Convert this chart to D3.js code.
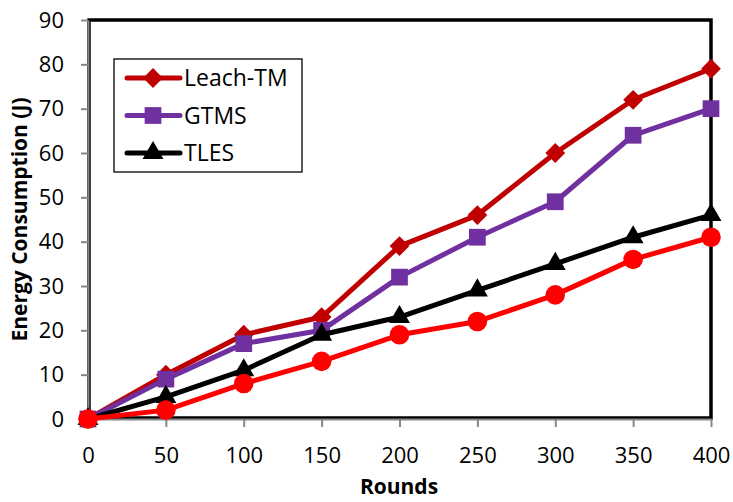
<!DOCTYPE html>
<html><head><meta charset="utf-8">
<script src="https://cdn.jsdelivr.net/npm/d3@7"></script>
<style>body{margin:0;background:#fff;} svg{display:block;font-family:"Open Sans", sans-serif;}</style>
</head><body>
<svg id="c" width="733" height="502"></svg>
<script>
const rounds = [0, 50, 100, 150, 200, 250, 300, 350, 400];
const leachTM = [0, 10, 19, 23, 39, 46, 60, 72, 79];
const gtms = [0, 9, 17, 20, 32, 41, 49, 64, 70];
const tles = [0, 5, 11, 19, 23, 29, 35, 41, 46];
const proposed = [0, 2, 8, 13, 19, 22, 28, 36, 41];
const yTicks = [0, 10, 20, 30, 40, 50, 60, 70, 80, 90];
const xTicks = rounds;

const series = [
  {name: "Leach-TM", values: leachTM, color: "#C00000", shape: d3.symbolDiamond2, size: 250, legend: true},
  {name: "GTMS", values: gtms, color: "#7030A0", shape: d3.symbolSquare, size: 280, legend: true},
  {name: "TLES", values: tles, color: "#000000", shape: d3.symbolTriangle, size: 190, legend: true},
  {name: "Proposed", values: proposed, color: "#FF0000", shape: d3.symbolCircle, size: 300, legend: false}
];

const L = 88, R = 711, T = 20, B = 419;
const svg = d3.select("#c");
const x = d3.scaleLinear().domain([0, 400]).range([L, R]);
const y = d3.scaleLinear().domain([0, 90]).range([B, T]);

// plot border
svg.append("rect").attr("x", L + 1).attr("y", T).attr("width", R - L - 1).attr("height", B - T - 1)
  .attr("fill", "none").attr("stroke", "#000").attr("stroke-width", 3.5);

// axes
const xAxis = d3.axisBottom(x).tickValues(xTicks).tickSize(8).tickPadding(20).tickSizeOuter(0);
const gx = svg.append("g").attr("transform", `translate(0,${B})`).call(xAxis);
const yAxis = d3.axisLeft(y).tickValues(yTicks).tickSize(7).tickPadding(17).tickSizeOuter(0);
const gy = svg.append("g").attr("transform", `translate(${L},0)`).call(yAxis);
[gx, gy].forEach(g => {
  g.select(".domain").attr("stroke", "#888").attr("stroke-width", 2);
  g.selectAll(".tick line").attr("stroke", "#888").attr("stroke-width", 2);
  g.selectAll(".tick text").attr("font-size", 22).attr("fill", "#000").attr("font-family", "'Open Sans', sans-serif");
});

// axis titles
svg.append("text").attr("x", 399).attr("y", 494).attr("text-anchor", "middle")
  .attr("font-size", 21).attr("font-weight", "bold").text("Rounds");
svg.append("text").attr("transform", `translate(27,${(T + B) / 2}) rotate(-90)`).attr("text-anchor", "middle")
  .attr("font-size", 21).attr("font-weight", "bold").text("Energy Consumption (J)");

// lines
const line = d3.line().x((d, i) => x(rounds[i])).y(d => y(d));
series.forEach(s => {
  const g = svg.append("g");
  g.append("path").datum(s.values).attr("d", line).attr("fill", "none")
    .attr("stroke", s.color).attr("stroke-width", 5).attr("stroke-linejoin", "round");
  g.selectAll("path.m").data(s.values).enter().append("path").attr("class", "m")
    .attr("d", d3.symbol().type(s.shape).size(s.size))
    .attr("transform", (d, i) => `translate(${x(rounds[i])},${y(d)})`)
    .attr("fill", s.color);
});

// legend
const lg = svg.append("g");
lg.append("rect").attr("x", 114).attr("y", 59).attr("width", 188).attr("height", 113)
  .attr("fill", "#fff").attr("stroke", "#000").attr("stroke-width", 1.3);
series.filter(s => s.legend).forEach((s, i) => {
  const cy = 78 + i * 37.5;
  lg.append("line").attr("x1", 127).attr("x2", 180).attr("y1", cy).attr("y2", cy)
    .attr("stroke", s.color).attr("stroke-width", 5).attr("stroke-linecap", "round");
  lg.append("path").attr("d", d3.symbol().type(s.shape).size(s.size))
    .attr("transform", `translate(153,${cy})`).attr("fill", s.color);
  lg.append("text").attr("x", 184).attr("y", cy).attr("dy", "0.36em").attr("font-size", 23).text(s.name);
});
</script>
</body></html>
